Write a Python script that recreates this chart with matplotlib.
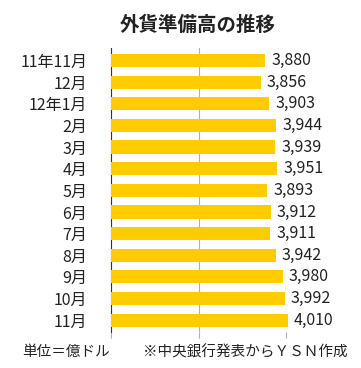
import matplotlib.pyplot as plt
import numpy as np

plt.rcParams['font.family'] = ['Noto Sans CJK JP', 'DejaVu Sans']

months = ["11年11月", "12月", "12年1月", "2月", "3月", "4月", "5月",
          "6月", "7月", "8月", "9月", "10月", "11月"]
reserves = [3880, 3856, 3903, 3944, 3939, 3951, 3893, 3912, 3911, 3942, 3980, 3992, 4010]
base = 3000

fig = plt.figure(figsize=(3.61, 3.68), dpi=100)
ax = fig.add_axes([111 / 361, 1 - 332 / 368, 175 / 361, 284 / 368])

y = np.arange(len(months))
ax.barh(y, [v - base for v in reserves], left=base, height=0.61,
        color="#FFCC00", clip_on=False, zorder=3)
for yy, v in zip(y, reserves):
    ax.text(v + 35, yy, "{:,}".format(v), va="center", ha="left", fontsize=11.5, color="#222222")

ax.set_xlim(3000, 4000)
ax.set_ylim(len(months) - 0.45, -0.58)
ax.set_xticks([3000, 3500, 4000])
ax.set_xticklabels([])
ax.xaxis.grid(True, color="#b0b0b0", linewidth=0.8, zorder=0)
ax.tick_params(axis="x", length=4, color="#b0b0b0", direction="out")
ax.set_yticks(y)
ax.set_yticklabels(months, fontsize=11.5, color="#222222")
ax.tick_params(axis="y", length=0, pad=17)
for s in ["top", "right", "bottom"]:
    ax.spines[s].set_visible(False)
ax.spines["left"].set_color("#333333")
ax.spines["left"].set_linewidth(0.8)

fig.text(198 / 361, 1 - 25 / 368, "外貨準備高の推移", ha="center", va="center",
         fontsize=14, fontweight="bold", color="#222222")
fig.text(22 / 361, 1 - 352 / 368, "単位＝億ドル", ha="left", va="center", fontsize=10.5, color="#222222")
fig.text(143 / 361, 1 - 352 / 368, "※中央銀行発表からＹＳＮ作成", ha="left", va="center",
         fontsize=10.5, color="#222222")

plt.savefig("out.png", dpi=100)
